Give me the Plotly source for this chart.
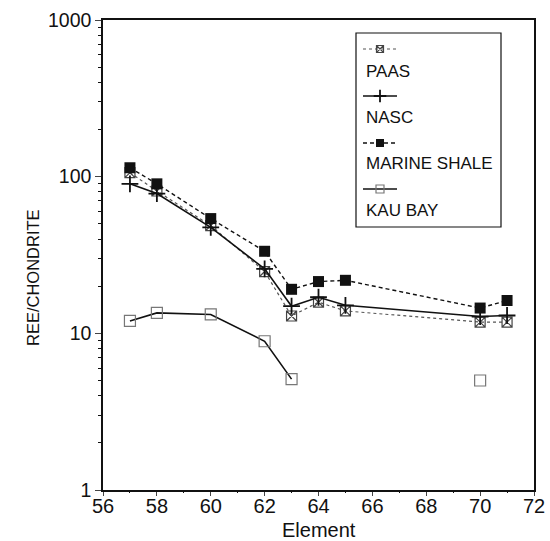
import plotly.graph_objects as go

# ---- data ----
elements = [57, 58, 60, 62, 63, 64, 65, 70, 71]
paas = [106, 81, 48.7, 24.8, 12.9, 15.8, 13.9, 11.8, 11.8]
nasc = [90, 78, 47.5, 25.8, 14.9, 17.0, 15.1, 12.8, 13.0]
marine_shale = [114, 90, 54, 33.4, 19.1, 21.4, 21.8, 14.5, 16.2]
kau_bay = [12.0, 13.5, 13.2, 8.9, 5.1, None, None, 5.0, None]

series_names = ["PAAS", "NASC", "MARINE SHALE", "KAU BAY"]
y_minor_ticks = [m * 10 ** d for d in range(3) for m in range(2, 10)]
x_minor_ticks = list(range(57, 72, 2))

FONT = "Liberation Sans, Arial, sans-serif"

styles = {
    "PAAS": dict(line=dict(color="#555", width=1.2, dash="dot"),
                 marker=dict(symbol="square-x-open", size=10, color="#444", line=dict(width=1.2))),
    "NASC": dict(line=dict(color="#111", width=1.6, dash="solid"),
                 marker=dict(symbol="cross-thin-open", size=12, color="#111", line=dict(width=1.8))),
    "MARINE SHALE": dict(line=dict(color="#111", width=1.4, dash="4px,3px"),
                         marker=dict(symbol="square", size=11, color="#111")),
    "KAU BAY": dict(line=dict(color="#111", width=1.6, dash="solid"),
                    marker=dict(symbol="square-open", size=11, color="#777", line=dict(width=1.2))),
}

fig = go.Figure()
for name, ys in zip(series_names, [paas, nasc, marine_shale, kau_bay]):
    st = styles[name]
    fig.add_trace(go.Scatter(x=elements, y=ys, mode="lines+markers", name=name,
                             line=st["line"], marker=st["marker"],
                             connectgaps=False, showlegend=False))

# ---- custom legend (sample above label) ----
def px2paper(px, py):
    return (px - 103) / 431, (490 - py) / 470

sample_y = [49, 96, 143, 189]
label_y = [71, 117, 163, 210]
for name, sy, ly in zip(series_names, sample_y, label_y):
    st = styles[name]
    x0, y0 = px2paper(363, sy)
    x1, _ = px2paper(397, sy)
    fig.add_trace(go.Scatter(x=[x0, (x0 + x1) / 2, x1], y=[y0, y0, y0], mode="lines",
                             line=st["line"], xaxis="x2", yaxis="y2",
                             showlegend=False, hoverinfo="skip"))
    m = dict(st["marker"])
    m["size"] = m["size"] - 3
    fig.add_trace(go.Scatter(x=[(x0 + x1) / 2], y=[y0], mode="markers", marker=m,
                             xaxis="x2", yaxis="y2", showlegend=False, hoverinfo="skip"))
    lx, lyp = px2paper(364, ly)
    fig.add_annotation(x=lx, y=lyp, xref="paper", yref="paper", text=name,
                       showarrow=False, xanchor="left", yanchor="middle",
                       font=dict(family=FONT, size=17, color="#111"))

bx0, by0 = px2paper(356, 33)
bx1, by1 = px2paper(501, 227)
fig.add_shape(type="rect", xref="paper", yref="paper", x0=bx0, y0=by1, x1=bx1, y1=by0,
              line=dict(color="#111", width=1.2))

# axis titles as annotations (placed like the reference)
tx, ty = px2paper(319, 530)
fig.add_annotation(x=tx, y=ty, xref="paper", yref="paper", text="Element",
                   showarrow=False, xanchor="center", yanchor="middle",
                   font=dict(family=FONT, size=20, color="#111"))
tx, ty = px2paper(33, 278)
fig.add_annotation(x=tx, y=ty, xref="paper", yref="paper", text="REE/CHONDRITE",
                   showarrow=False, xanchor="center", yanchor="middle", textangle=-90,
                   font=dict(family=FONT, size=16.5, color="#111"))

fig.update_layout(
    width=550, height=541,
    margin=dict(l=103, r=16, t=20, b=51),
    paper_bgcolor="white", plot_bgcolor="white",
    font=dict(family=FONT, color="#111"),
    xaxis=dict(range=[56, 72], tick0=56, dtick=2, ticks="outside", ticklen=4,
               tickwidth=1.2, showline=True, linecolor="#111", linewidth=1.5,
               mirror=True, showgrid=False, zeroline=False, automargin=False,
               ticklabelstandoff=-7,
               tickfont=dict(size=20, family=FONT)),
    yaxis=dict(type="log", range=[0, 3], dtick=1, ticks="outside", ticklen=6,
               tickwidth=1.2, showline=True, linecolor="#111", linewidth=1.5,
               mirror=True, showgrid=False, zeroline=False, automargin=False,
               tickfont=dict(size=19.5, family=FONT)),
    xaxis2=dict(range=[0, 1], overlaying="x", visible=False, fixedrange=True),
    yaxis2=dict(range=[0, 1], overlaying="y", visible=False, fixedrange=True),
    # minor tick axes
    xaxis3=dict(range=[56, 72], overlaying="x", side="bottom", tickvals=x_minor_ticks,
                ticktext=[""] * len(x_minor_ticks), ticks="outside", ticklen=2,
                tickwidth=1, tickcolor="#111", showline=False, showgrid=False,
                zeroline=False, automargin=False, fixedrange=True),
    yaxis3=dict(type="log", range=[0, 3], overlaying="y", side="left", tickvals=y_minor_ticks,
                ticktext=[""] * len(y_minor_ticks), ticks="outside", ticklen=4,
                tickwidth=1, tickcolor="#111", showline=False, showgrid=False,
                zeroline=False, automargin=False, fixedrange=True),
)
# invisible trace to activate minor-tick axes
fig.add_trace(go.Scatter(x=[None], y=[None], xaxis="x3", yaxis="y3",
                         showlegend=False, hoverinfo="skip"))

fig.write_html("out.html", config={"displayModeBar": False},
               post_script="document.body.style.margin='0';")
